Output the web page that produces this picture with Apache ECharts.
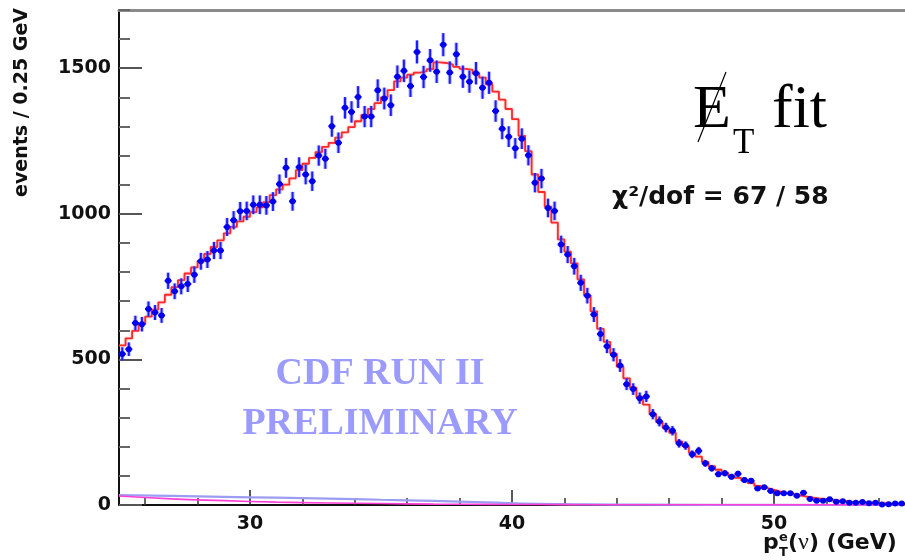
<!DOCTYPE html>
<html>
<head>
<meta charset="utf-8">
<script src="https://cdn.jsdelivr.net/npm/echarts@6/dist/echarts.min.js"></script>
<style>
  html, body { margin: 0; padding: 0; background: #ffffff; }
  #chart { width: 905px; height: 560px; }
</style>
</head>
<body>
<div id="chart"></div>
<script>
// Binning of the transverse-momentum histogram (GeV)
const binStart = 25;
const binWidth = 0.25;

// Observed events per 0.25 GeV bin, 25 -> 55 GeV
const events = [
  519, 535, 625, 621, 673, 661, 651, 770, 734, 751,
  759, 791, 837, 843, 874, 874, 955, 978, 1009, 1010,
  1031, 1031, 1029, 1042, 1102, 1158, 1043, 1160, 1135, 1112,
  1200, 1189, 1301, 1244, 1364, 1350, 1401, 1334, 1334, 1424,
  1396, 1373, 1471, 1491, 1439, 1556, 1470, 1527, 1488, 1581,
  1485, 1548, 1471, 1454, 1483, 1433, 1450, 1353, 1292, 1265,
  1225, 1258, 1201, 1107, 1121, 1020, 1010, 895, 860, 820,
  763, 719, 654, 587, 545, 516, 479, 415, 398, 367,
  373, 312, 287, 266, 255, 212, 204, 174, 186, 143,
  126, 106, 109, 97, 107, 86, 83, 57, 61, 48,
  40, 40, 40, 32, 42, 21, 15, 15, 20, 11,
  13, 8, 8, 10, 6, 8, 2, 3, 5, 5
];

// Best-fit template, same binning
const fitValues = [
  548, 572, 598, 622, 647, 671, 696, 722, 748, 772,
  795, 816, 838, 862, 886, 909, 933, 955, 974, 990,
  1006, 1022, 1040, 1064, 1084, 1100, 1122, 1150, 1172, 1192,
  1212, 1230, 1244, 1262, 1280, 1298, 1318, 1340, 1360, 1380,
  1400, 1425, 1455, 1468, 1478, 1485, 1490, 1497, 1520, 1518,
  1512, 1505, 1498, 1494, 1482, 1468, 1445, 1420, 1392, 1360,
  1325, 1268, 1215, 1135, 1075, 1025, 970, 912, 870, 830,
  775, 720, 665, 605, 560, 520, 475, 435, 403, 370,
  345, 312, 285, 265, 248, 218, 202, 180, 166, 148,
  133, 121, 110, 100, 93, 84, 75, 66, 58, 52,
  46, 41, 37, 33, 29, 25, 22, 19, 17, 15,
  13, 11, 10, 9, 8, 7, 6, 5, 5, 4
];

// Background shapes
const bkgX   = [25, 27, 29, 31, 33, 35, 37, 39, 41, 43, 45, 50, 55];
const bkgQCD = [34, 31, 28, 25, 22, 18, 14, 9, 4, 2, 1, 0.5, 0];
const bkgZ   = [31, 21, 15, 10, 7, 5, 3, 2, 1.5, 1, 1, 0.5, 0.5];

// Tick positions
const xMajorTicks = [30, 40, 50];
const xMinorTicks = [26, 28, 32, 34, 36, 38, 42, 44, 46, 48, 52, 54];
const yMajorTicks = [0, 500, 1000, 1500];
const yMinorTicks = [100, 200, 300, 400, 600, 700, 800, 900, 1100, 1200, 1300, 1400, 1600, 1700];

const xMin = 25, xMax = 55, yMin = 0, yMax = 1700;

const sansBold = '"DejaVu Sans", sans-serif';
const serif = '"Liberation Serif", "Times New Roman", serif';

const pointData = events.map((v, i) => [binStart + binWidth * (i + 0.5), v]);
const fitData = fitValues.map((v, i) => [binStart + binWidth * i, v]);
fitData.push([binStart + binWidth * fitValues.length, fitValues[fitValues.length - 1]]);

const plainNumber = v => String(v);

const chart = echarts.init(document.getElementById('chart'), null, { renderer: 'canvas' });

const option = {
  animation: false,
  backgroundColor: '#ffffff',
  grid: { left: 119, right: -1, top: 10, bottom: 55, containLabel: false },
  xAxis: [
    {
      type: 'value', min: xMin, max: xMax, position: 'bottom',
      axisLine: { show: true, lineStyle: { color: '#111', width: 2 } },
      axisTick: { show: true, inside: true, length: 15, customValues: xMajorTicks, lineStyle: { color: '#222', width: 1.5 } },
      axisLabel: { show: true, customValues: xMajorTicks, margin: 10, color: '#111', formatter: plainNumber,
        fontFamily: sansBold, fontWeight: 'bold', fontSize: 19 },
      splitLine: { show: false }
    },
    {
      type: 'value', min: xMin, max: xMax, position: 'bottom',
      axisLine: { show: false },
      axisTick: { show: true, inside: true, length: 7, customValues: xMinorTicks, lineStyle: { color: '#333', width: 1.5 } },
      axisLabel: { show: false },
      splitLine: { show: false }
    },
    {
      type: 'value', min: xMin, max: xMax, position: 'top',
      axisLine: { show: true, lineStyle: { color: '#8a8a8a', width: 3 } },
      axisTick: { show: false }, axisLabel: { show: false }, splitLine: { show: false }
    }
  ],
  yAxis: [
    {
      type: 'value', min: yMin, max: yMax, position: 'left',
      axisLine: { show: true, lineStyle: { color: '#111', width: 2 } },
      axisTick: { show: true, inside: true, length: 23, customValues: yMajorTicks, lineStyle: { color: '#555', width: 2 } },
      axisLabel: { show: true, customValues: yMajorTicks, margin: 8, color: '#111', formatter: plainNumber,
        fontFamily: sansBold, fontWeight: 'bold', fontSize: 19 },
      splitLine: { show: false }
    },
    {
      type: 'value', min: yMin, max: yMax, position: 'left',
      axisLine: { show: false },
      axisTick: { show: true, inside: true, length: 11, customValues: yMinorTicks, lineStyle: { color: '#666', width: 2 } },
      axisLabel: { show: false },
      splitLine: { show: false }
    }
  ],
  series: [
    {
      name: 'QCD', type: 'line', smooth: true, showSymbol: false,
      data: bkgX.map((x, i) => [x, bkgQCD[i]]),
      lineStyle: { color: '#9c9cf2', width: 2.2 }, z: 2
    },
    {
      name: 'Z', type: 'line', smooth: true, showSymbol: false,
      data: bkgX.map((x, i) => [x, bkgZ[i]]),
      lineStyle: { color: '#ff3fd8', width: 1.6 }, z: 3
    },
    {
      name: 'fit', type: 'line', step: 'end', showSymbol: false,
      data: fitData,
      lineStyle: { color: '#ff2b2b', width: 1.8, shadowBlur: 2, shadowColor: 'rgba(255,90,90,0.6)' }, z: 4
    },
    {
      name: 'data', type: 'custom', z: 5,
      data: pointData,
      renderItem: function (params, api) {
        const x = api.value(0), y = api.value(1);
        const err = Math.sqrt(y);
        const c = api.coord([x, y]);
        const top = api.coord([x, y + err]);
        const bot = api.coord([x, Math.max(0, y - err)]);
        return {
          type: 'group',
          children: [
            { type: 'line', shape: { x1: c[0], y1: top[1], x2: c[0], y2: bot[1] },
              style: { stroke: 'rgba(110,110,255,0.45)', lineWidth: 4 } },
            { type: 'line', shape: { x1: c[0], y1: top[1], x2: c[0], y2: bot[1] },
              style: { stroke: '#1c1cff', lineWidth: 2 } },
            { type: 'line', shape: { x1: c[0] - 3.5, y1: c[1], x2: c[0] + 3.5, y2: c[1] },
              style: { stroke: '#0000ff', lineWidth: 2 } },
            { type: 'circle', shape: { cx: c[0], cy: c[1], r: 3 },
              style: { fill: '#0000ee' } }
          ]
        };
      }
    }
  ],
  graphic: [
    // vertical axis title
    { type: 'text', x: 22, y: 8, rotation: Math.PI / 2,
      style: { text: 'events / 0.25 GeV', font: 'bold 19px ' + sansBold, fill: '#111',
        textAlign: 'right', textVerticalAlign: 'middle' } },
    // horizontal axis title  p_T^e(ν) (GeV)
    { type: 'text', x: 763, y: 543,
      style: { text: 'p', font: 'bold 22px ' + sansBold, fill: '#111', textAlign: 'left', textVerticalAlign: 'middle' } },
    { type: 'text', x: 779, y: 538,
      style: { text: 'e', font: 'bold 13px ' + sansBold, fill: '#111', textAlign: 'left', textVerticalAlign: 'middle' } },
    { type: 'text', x: 779, y: 553,
      style: { text: 'T', font: 'bold 13px ' + sansBold, fill: '#111', textAlign: 'left', textVerticalAlign: 'middle' } },
    { type: 'text', x: 788, y: 543,
      style: {
        text: '{a|(}{n|ν}{a|) (GeV)}', textAlign: 'left', textVerticalAlign: 'middle',
        rich: {
          a: { font: 'bold 22px ' + sansBold, fill: '#111' },
          n: { font: '24px ' + serif, fill: '#111' }
        }
      } },
    // missing transverse energy label
    { type: 'text', x: 693, y: 111,
      style: { text: 'E', font: '62px ' + serif, fill: '#000', textAlign: 'left', textVerticalAlign: 'middle' } },
    { type: 'line', shape: { x1: 726, y1: 72, x2: 698, y2: 142 },
      style: { stroke: '#000', lineWidth: 1.2 } },
    { type: 'text', x: 733, y: 144,
      style: { text: 'T', font: '35px ' + serif, fill: '#000', textAlign: 'left', textVerticalAlign: 'middle' } },
    { type: 'text', x: 772, y: 111,
      style: { text: 'fit', font: '62px ' + serif, fill: '#000', textAlign: 'left', textVerticalAlign: 'middle' } },
    // fit quality
    { type: 'text', x: 612, y: 197,
      style: { text: 'χ²/dof = 67 / 58', font: 'bold 25px ' + sansBold, fill: '#111',
        textAlign: 'left', textVerticalAlign: 'middle' } },
    // watermark
    { type: 'text', x: 380, y: 374,
      style: { text: 'CDF RUN II', font: 'bold 38px ' + serif, fill: '#9b9bff',
        textAlign: 'center', textVerticalAlign: 'middle' } },
    { type: 'text', x: 380, y: 424,
      style: { text: 'PRELIMINARY', font: 'bold 38px ' + serif, fill: '#9b9bff',
        textAlign: 'center', textVerticalAlign: 'middle' } }
  ]
};

chart.setOption(option);
</script>
</body>
</html>
